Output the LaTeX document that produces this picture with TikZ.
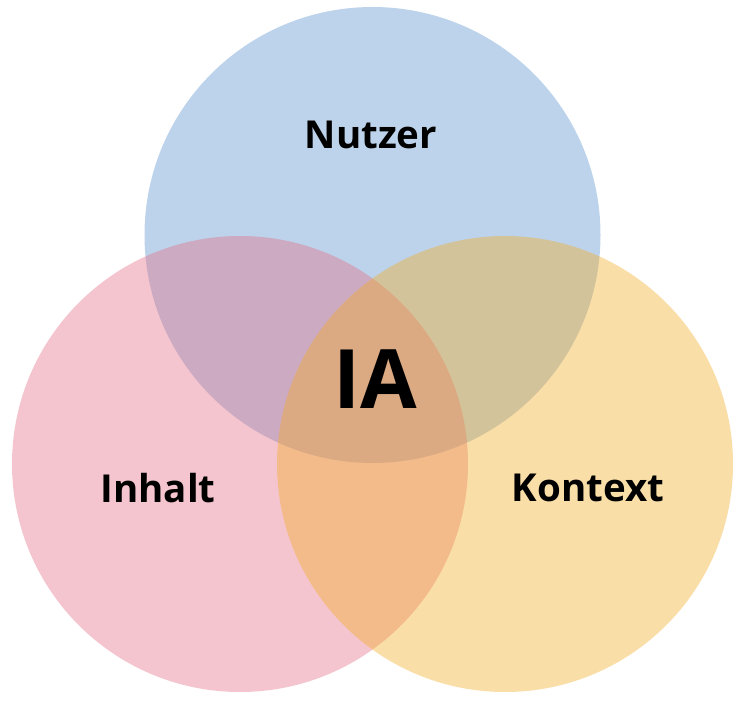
\documentclass[tikz,border=0pt]{standalone}
\usepackage{fontspec}
\setmainfont{Open Sans}
\usepackage{tikz}
\usetikzlibrary{positioning}

\definecolor{nutzerblue}{RGB}{90,145,205}
\definecolor{inhaltpink}{RGB}{228,110,132}
\definecolor{kontextorange}{RGB}{242,172,37}

\begin{document}
\begin{tikzpicture}[x=1pt, y=1pt,
  setnode/.style={circle, minimum size=456pt, inner sep=0pt, fill opacity=0.4},
  labelnode/.style={font=\fontsize{38.5}{46}\selectfont\bfseries, inner sep=0pt}]
\useasboundingbox (0,0) rectangle (752,716);
\node (nutzer) [setnode, fill=nutzerblue] at (372.5,481) {};
\node (inhalt) [setnode, fill=inhaltpink] at (240,252) {};
\node (kontext) [setnode, fill=kontextorange] at (505,252) {};
\node (n) [labelnode] at (371,581) {Nutzer};
\node (i) [labelnode] at (158,228) {Inhalt};
\node (k) [labelnode] at (588,228) {Kontext};
\node (ia) [labelnode, font=\fontsize{82}{94}\selectfont\bfseries] at (375,337) {IA};

\end{tikzpicture}
\end{document}
